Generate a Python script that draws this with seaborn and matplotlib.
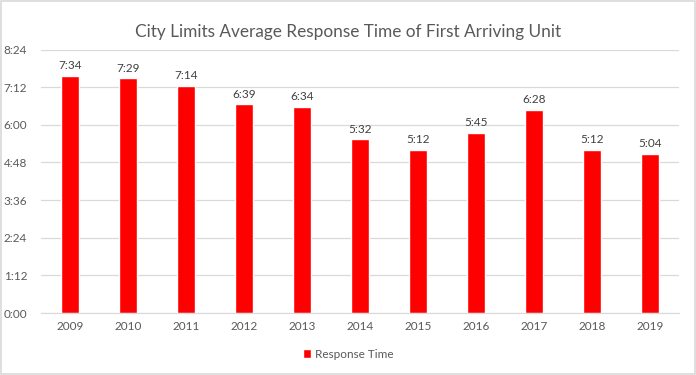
import matplotlib
matplotlib.use('Agg')
import matplotlib.pyplot as plt
import seaborn as sns
import pandas as pd
from matplotlib.ticker import FuncFormatter, MultipleLocator
from matplotlib.patches import Rectangle

years = ['2009', '2010', '2011', '2012', '2013', '2014', '2015', '2016', '2017', '2018', '2019']
labels = ['7:34', '7:29', '7:14', '6:39', '6:34', '5:32', '5:12', '5:45', '6:28', '5:12', '5:04']


def to_seconds(s):
    m, sec = s.split(':')
    return int(m) * 60 + int(sec)


seconds = [to_seconds(s) for s in labels]
df = pd.DataFrame({'Year': years, 'Seconds': seconds})

TEXT = '#595959'
GRID = '#D9D9D9'

sns.set_style('white')
plt.rcParams['font.family'] = ['Lato', 'DejaVu Sans']

fig = plt.figure(figsize=(6.96, 3.75), dpi=100)
ax = fig.add_axes([0.059, 0.165, 0.917, 0.703])

sns.barplot(data=df, x='Year', y='Seconds', color='#FF0000', width=0.31,
            saturation=1, label='Response Time', ax=ax)

for i, (v, lab) in enumerate(zip(seconds, labels)):
    ax.text(i, v + 9, lab, ha='center', va='bottom', fontsize=8.5, color='#404040')

ax.set_ylim(0, 504)
ax.yaxis.set_major_locator(MultipleLocator(72))
ax.yaxis.set_major_formatter(FuncFormatter(lambda v, p: '{}:{:02d}'.format(int(v) // 60, int(v) % 60)))
ax.set_xlim(-0.5, len(years) - 0.5)
ax.grid(axis='y', color=GRID, linewidth=0.9)
ax.set_axisbelow(True)
for side in ['top', 'right', 'left']:
    ax.spines[side].set_visible(False)
ax.spines['bottom'].set_color(GRID)
ax.tick_params(axis='both', length=0, labelsize=8.5, labelcolor=TEXT)
ax.tick_params(axis='y', pad=10)
ax.tick_params(axis='x', pad=6)
ax.set_xlabel('')
ax.set_ylabel('')

fig.suptitle('City Limits Average Response Time of First Arriving Unit',
             y=0.935, fontsize=12.4, color=TEXT)

leg = ax.get_legend()
if leg is not None:
    leg.remove()
handles, labs = ax.get_legend_handles_labels()
fig.legend(handles, labs, loc='center', bbox_to_anchor=(0.5, 0.056), frameon=False,
           fontsize=8.5, labelcolor=TEXT, handlelength=0.7, handleheight=0.7,
           handletextpad=0.3)

fig.patches.append(Rectangle((0.002, 0.003), 0.996, 0.994, transform=fig.transFigure,
                             fill=False, edgecolor=GRID, linewidth=1.2))

fig.savefig('out.png', dpi=100)
